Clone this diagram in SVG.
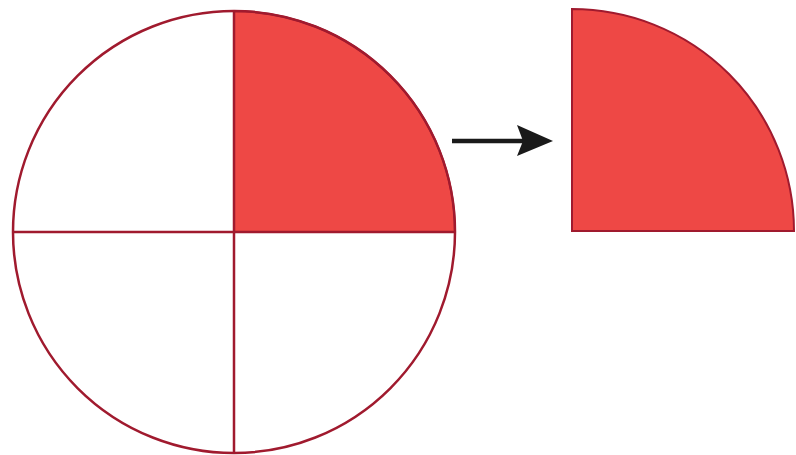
<svg xmlns="http://www.w3.org/2000/svg" width="796" height="455" viewBox="0 0 796 455">
<style>
.ln{stroke:#A01A2E;stroke-width:2.5;fill:none}
.q{fill:#EE4845;stroke:#A01A2E;stroke-width:2}
</style>
<defs>
<marker id="ah" markerWidth="10" markerHeight="10" refX="9" refY="5" orient="auto" markerUnits="userSpaceOnUse" viewBox="0 0 10 10">
<path d="M0,0 L10,5 L0,10 L2,5 Z" fill="#1a1a1a"/>
</marker>
</defs>
<rect width="796" height="455" fill="#fff"/>
<g id="circle">
<path class="q" d="M234,232 L234,11 A221,221 0 0 1 455,232 Z"/>
<circle class="ln" cx="234" cy="232" r="221"/>
<line class="ln" x1="234" y1="11" x2="234" y2="453"/>
<line class="ln" x1="13" y1="232" x2="455" y2="232"/>
</g>
<g id="quarter">
<path class="q" d="M572,231 L572,9 A222,222 0 0 1 794,231 Z"/>
</g>
<g id="connectors">
<line x1="452" y1="141" x2="530" y2="141" stroke="#1a1a1a" stroke-width="4.5"/>
<path d="M517,125 L553,141 L517,156 L523,141 Z" fill="#1a1a1a"/>
</g>
</svg>
